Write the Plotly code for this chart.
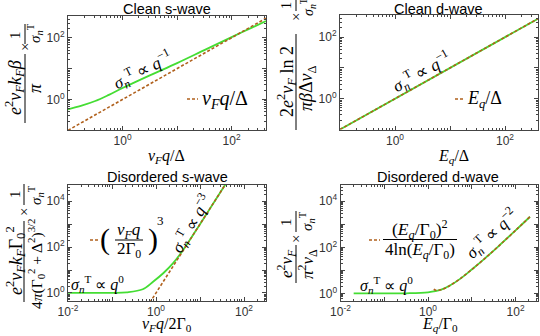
import plotly.graph_objects as go

W, H = 540, 336
SERIF = "Liberation Serif"
SANS = "Liberation Sans"
GREEN = "#44dd33"
BROWN = "#b0601c"

# Clean s-wave
cs_x = [0.1, 0.178, 0.316, 0.562, 1, 3.16, 10, 31.6, 100, 200, 427]
cs_y = [0.479, 0.631, 0.891, 1.41, 2.34, 6.03, 15.1, 39.8, 105, 186, 347]
cs_asym_x = [0.1, 427]
cs_asym_y = [0.1, 427]

# Clean d-wave
cd_x = [0.1, 398]
cd_y = [0.1, 398]
cd_asym_x = [0.1, 398]
cd_asym_y = [0.1, 398]

# Disordered s-wave
ds_x = [0.01, 0.0316, 0.1, 0.214, 0.5, 0.871, 1.48, 2.45, 4.17, 10, 39.8]
ds_y = [1.0, 1.0, 1.01, 1.07, 1.45, 3.16, 7.41, 20.0, 75.9, 1000, 63100]
ds_asym_x = [0.63, 40]
ds_asym_y = [0.25, 64000]

# Disordered d-wave
dd_x = [0.02, 0.1, 0.316, 1, 2, 3.16, 5.62, 10, 20, 40, 100, 214]
dd_y = [1.0, 1.0, 1.01, 1.12, 1.45, 2.2, 4.5, 10.9, 33.4, 108, 543, 2130]
dd_asym_x = [1.35, 1.5, 1.7, 2, 3, 5, 10, 20, 40, 100, 214]
dd_asym_y = [1.52, 1.37, 1.36, 1.44, 2.05, 3.9, 10.9, 33.4, 108, 543, 2130]

lab_top = ["", "10<sup>0</sup>", "", "10<sup>2</sup>"]
val_top = [0.1, 1, 10, 100]
lab_bx = ["10<sup>-2</sup>", "", "10<sup>0</sup>", "", "10<sup>2</sup>"]
val_bx = [0.01, 0.1, 1, 10, 100]
lab_by = ["10<sup>0</sup>", "", "10<sup>2</sup>", "", "10<sup>4</sup>"]
val_by = [1, 10, 100, 1000, 10000]
minor_vals = [m * 10.0 ** k for k in range(-2, 5) for m in range(2, 10)]


def xdom(a, b):
    return [a / W, b / W]


def ydom(top, bot):
    return [1 - bot / H, 1 - top / H]


def axis(dom, rng, vals, texts, anchor):
    return dict(type="log", domain=dom, range=rng, tickmode="array", tickvals=vals, ticktext=texts,
                ticks="inside", ticklen=4, tickwidth=1, tickcolor="#444",
                showline=True, linecolor="#444", linewidth=1, mirror="ticks",
                showgrid=False, zeroline=False, anchor=anchor,
                tickfont=dict(family=SANS, size=12, color="#333"),
                minor=dict(tickmode="array", tickvals=minor_vals, ticks="inside", ticklen=2,
                           tickwidth=1, tickcolor="#444", showgrid=False))


fig = go.Figure()

panels = [
    ("x", "y", cs_x, cs_y, cs_asym_x, cs_asym_y),
    ("x2", "y2", cd_x, cd_y, cd_asym_x, cd_asym_y),
    ("x3", "y3", ds_x, ds_y, ds_asym_x, ds_asym_y),
    ("x4", "y4", dd_x, dd_y, dd_asym_x, dd_asym_y),
]
for xa, ya, gx, gy, bx, by in panels:
    fig.add_trace(go.Scatter(x=gx, y=gy, mode="lines", line=dict(color=GREEN, width=1.8, shape="spline"),
                             xaxis=xa, yaxis=ya, showlegend=False))
    fig.add_trace(go.Scatter(x=bx, y=by, mode="lines",
                             line=dict(color=BROWN, width=1.6, dash="3px,2px", shape="spline"),
                             xaxis=xa, yaxis=ya, showlegend=False))

fig.update_layout(
    width=W, height=H, margin=dict(l=0, r=0, t=0, b=0), template="none",
    paper_bgcolor="white", plot_bgcolor="white", showlegend=False,
    xaxis=axis(xdom(68, 266), [-1, 2.63], val_top, lab_top, "y"),
    yaxis=axis(ydom(15.5, 130), [-0.99, 2.72], val_top, lab_top, "x"),
    xaxis2=axis(xdom(340, 538), [-1, 2.6], val_top, lab_top, "y2"),
    yaxis2=axis(ydom(15, 129.5), [-1, 2.72], val_top, lab_top, "x2"),
    xaxis3=axis(xdom(68, 266), [-2, 2.5], val_bx, lab_bx, "y3"),
    yaxis3=axis(ydom(184.7, 301), [-0.35, 4.72], val_by, lab_by, "x3"),
    xaxis4=axis(xdom(340.5, 538.3), [-2, 2.52], val_bx, lab_bx, "y4"),
    yaxis4=axis(ydom(184.7, 301), [-0.33, 4.72], val_by, lab_by, "x4"),
)


def txt(x, y, s, size=15, angle=0, family=SERIF):
    fig.add_annotation(x=x / W, y=1 - y / H, xref="paper", yref="paper", text=s, showarrow=False,
                       textangle=angle, xanchor="center", yanchor="middle",
                       font=dict(family=family, size=size, color="black"))


def rule(x0, y0, x1, y1, dash=None, color="black", width=1):
    fig.add_shape(type="line", xref="paper", yref="paper", x0=x0 / W, y0=1 - y0 / H,
                  x1=x1 / W, y1=1 - y1 / H, line=dict(color=color, width=width, dash=dash))


sig = "<i>σ</i><sub><i>n</i></sub><sup>T</sup>"

# panel titles
txt(167, 8.5, "Clean s-wave", 14.5, family=SANS)
txt(438, 8.5, "Clean d-wave", 14.5, family=SANS)
txt(167, 176.5, "Disordered s-wave", 14.5, family=SANS)
txt(438, 176.5, "Disordered d-wave", 14.5, family=SANS)

# x titles
txt(166, 156, "<i>v</i><sub><i>F</i></sub><i>q</i>/Δ", 16)
txt(453, 156, "<i>E</i><sub><i>q</i></sub>/Δ", 16)
txt(167, 324, "<i>v</i><sub><i>F</i></sub><i>q</i>/2Γ<sub>0</sub>", 16)
txt(440, 324, "<i>E</i><sub><i>q</i></sub>/Γ<sub>0</sub>", 16)

# y titles (fractions, rotated)
txt(15, 88, "<i>e</i><sup>2</sup><i>v</i><sub><i>F</i></sub><i>k</i><sub><i>F</i></sub><i>β</i>", 18, -90)
rule(25, 54, 25, 123)
txt(35, 88, "<i>π</i>", 18, -90)
txt(25, 47, "×", 15, -90)
txt(15, 35, "1", 15, -90)
rule(25, 24, 25, 44)
txt(35, 33, sig, 15, -90)

txt(286, 82, "2<i>e</i><sup>2</sup><i>v</i><sub><i>F</i></sub> ln 2", 18, -90)
rule(296, 34, 296, 130)
txt(308, 88, "<i>πβ</i>Δ<i>v</i><sub>Δ</sub>", 18, -90)
txt(296, 17, "×", 15, -90)
txt(286, 6, "1", 14, -90)
rule(296, 0, 296, 11)
txt(308, 7, sig, 14, -90)

txt(15, 261, "<i>e</i><sup>2</sup><i>v</i><sub><i>F</i></sub><i>k</i><sub><i>F</i></sub>Γ<sub>0</sub><sup>2</sup>", 18, -90)
rule(24, 221, 24, 302)
txt(36, 264, "4<i>π</i>(Γ<sub>0</sub><sup>2</sup> + Δ<sup>2</sup>)<sup>3/2</sup>", 15.5, -90)
txt(24, 212, "×", 15, -90)
txt(15, 194, "1", 15, -90)
rule(24, 184, 24, 205)
txt(36, 195, sig, 15, -90)

txt(286, 264, "<i>e</i><sup>2</sup><i>v</i><sub><i>F</i></sub>", 17, -90)
rule(296, 245, 296, 283)
txt(307, 264, "<i>π</i><sup>2</sup><i>v</i><sub>Δ</sub>", 17, -90)
txt(296, 239, "×", 15, -90)
txt(286, 222, "1", 15, -90)
rule(296, 211, 296, 232)
txt(307, 221, sig, 15, -90)

# slope labels
txt(142, 70, sig + " ∝ <i>q</i><sup>−1</sup>", 17, -27)
txt(421, 72, sig + " ∝ <i>q</i><sup>−1</sup>", 17, -29)
txt(97, 284, sig + " ∝ <i>q</i><sup>0</sup>", 16)
txt(191, 224, sig + " ∝ <i>q</i><sup>−3</sup>", 17, -60)
txt(386, 285, sig + " ∝ <i>q</i><sup>0</sup>", 16)
txt(491, 234, sig + " ∝ <i>q</i><sup>−2</sup>", 17, -43)

# legends
rule(187, 99, 198, 99, "3px,2px", BROWN, 1.6)
txt(225, 99, "<i>v</i><sub><i>F</i></sub><i>q</i>/Δ", 20)
rule(455, 99, 465, 99, "3px,2px", BROWN, 1.6)
txt(484, 99, "<i>E</i><sub><i>q</i></sub>/Δ", 18)

rule(90, 240, 100, 240, "3px,2px", BROWN, 1.6)
txt(105, 239, "(", 30)
txt(129, 231, "<i>v</i><sub><i>F</i></sub><i>q</i>", 17)
rule(115, 240, 143, 240)
txt(129, 250, "2Γ<sub>0</sub>", 17)
txt(153, 239, ")", 30)
txt(160, 220, "3", 13)

rule(369, 240, 380, 240, "3px,2px", BROWN, 1.6)
txt(420, 229, "(<i>E</i><sub><i>q</i></sub>/Γ<sub>0</sub>)<sup>2</sup>", 17.5)
rule(383, 239.5, 457, 239.5)
txt(420, 251, "4ln(<i>E</i><sub><i>q</i></sub>/Γ<sub>0</sub>)", 17)

fig.write_html("out.html", config={"displayModeBar": False},
               post_script="document.body.style.margin='0';")
